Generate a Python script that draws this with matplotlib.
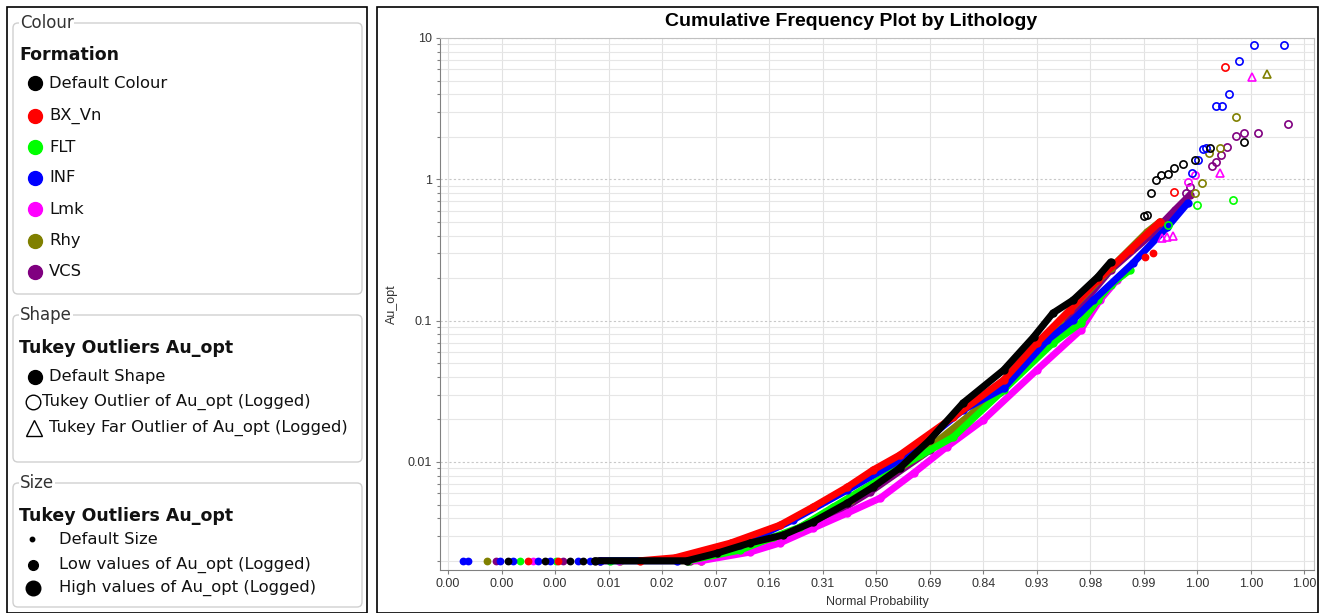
import matplotlib
matplotlib.use('Agg')
import matplotlib.pyplot as plt
from matplotlib.patches import Rectangle, FancyBboxPatch
from matplotlib.ticker import FixedLocator, FixedFormatter, LogLocator, NullFormatter

# ---- data (x = normal score, y = Au_opt) ----
formations = ['Default Colour', 'BX_Vn', 'FLT', 'INF', 'Lmk', 'Rhy', 'VCS']
colours = ['#000000', '#ff0000', '#00ff00', '#0000ff', '#ff00ff', '#808000', '#800080']

z_ticks = [-4.0, -3.5, -3.0, -2.5, -2.0, -1.5, -1.0, -0.5, 0.0, 0.5, 1.0, 1.5, 2.0, 2.5, 3.0, 3.5, 4.0]
prob_labels = ['0.00', '0.00', '0.00', '0.01', '0.02', '0.07', '0.16', '0.31', '0.50',
               '0.69', '0.84', '0.93', '0.98', '0.99', '1.00', '1.00', '1.00']
au_ticks = [0.01, 0.1, 1, 10]
au_labels = ['0.01', '0.1', '1', '10']

# Default Colour
default_z = [-2.63, -1.77, -1.49, -1.18, -0.87, -0.59, -0.27, -0.03, 0.22, 0.50, 0.81, 1.19, 1.47, 1.65, 1.84, 2.07, 2.19]
default_au = [0.002, 0.002, 0.00226, 0.00267, 0.00304, 0.00376, 0.00512, 0.00664, 0.00906, 0.0143, 0.0261, 0.0447, 0.0766, 0.113, 0.140, 0.204, 0.260]
default_pt_z = [-3.44, -3.09, -2.86, -2.74]
default_pt_au = [0.002, 0.002, 0.002, 0.002]
default_out_z = [2.50, 2.53, 2.57, 2.61, 2.66, 2.73, 2.78, 2.87, 2.98, 3.12, 3.44]
default_out_au = [0.55, 0.56, 0.80, 0.99, 1.08, 1.09, 1.20, 1.28, 1.37, 1.67, 1.84]
default_far_z, default_far_au = [], []

# BX_Vn
bxvn_z = [-2.21, -1.88, -1.36, -0.90, -0.59, -0.27, -0.03, 0.22, 0.72, 1.19, 1.50, 1.81, 2.07, 2.37, 2.65]
bxvn_au = [0.002, 0.0021, 0.00267, 0.00357, 0.0048, 0.00664, 0.00877, 0.0112, 0.0208, 0.038, 0.0693, 0.119, 0.194, 0.316, 0.50]
bxvn_pt_z = [-3.25, -2.97, 2.51, 2.59]
bxvn_pt_au = [0.002, 0.002, 0.282, 0.30]
bxvn_out_z = [2.78, 3.26]
bxvn_out_au = [0.81, 6.24]
bxvn_far_z, bxvn_far_au = [], []

# FLT
flt_z = [-2.49, -1.76, -1.27, -0.96, -0.71, -0.40, 0.22, 0.72, 1.19, 1.65, 1.91, 2.07, 2.19, 2.37]
flt_au = [0.002, 0.002, 0.00238, 0.00294, 0.00346, 0.0048, 0.0092, 0.015, 0.0323, 0.0693, 0.0962, 0.140, 0.179, 0.228]
flt_pt_z = [-3.33, -2.99]
flt_pt_au = [0.002, 0.002]
flt_out_z = [2.73, 3.00, 3.33]
flt_out_au = [0.475, 0.657, 0.714]
flt_far_z, flt_far_au = [], []

# INF
inf_z = [-2.58, -1.86, -1.27, -0.78, -0.27, 0.22, 0.50, 0.81, 1.19, 1.60, 1.84, 2.03, 2.40, 2.72, 2.91]
inf_au = [0.002, 0.002, 0.00258, 0.00388, 0.00633, 0.0103, 0.015, 0.0233, 0.0333, 0.0729, 0.101, 0.140, 0.256, 0.459, 0.679]
inf_pt_z = [-3.86, -3.81, -3.51, -3.39, -3.16, -3.05, -2.79, -2.67]
inf_pt_au = [0.002] * 8
inf_out_z = [2.95, 3.01, 3.05, 3.08, 3.17, 3.23, 3.30, 3.39, 3.53, 3.81]
inf_out_au = [1.11, 1.37, 1.64, 1.67, 3.30, 3.30, 4.02, 6.87, 8.92, 8.90]
inf_far_z, inf_far_au = [], []

# Lmk
lmk_z = [-2.40, -1.64, -1.18, -0.90, -0.59, -0.27, 0.04, 0.35, 0.66, 1.00, 1.50, 1.91, 2.09, 2.25]
lmk_au = [0.002, 0.002, 0.0023, 0.00267, 0.0034, 0.00435, 0.00556, 0.00834, 0.0128, 0.0198, 0.0447, 0.0858, 0.140, 0.194]
lmk_pt_z = [-3.21]
lmk_pt_au = [0.002]
lmk_out_z = [2.91, 2.98]
lmk_out_au = [0.96, 1.08]
lmk_far_z = [2.67, 2.72, 2.77, 3.21, 3.51]
lmk_far_au = [0.385, 0.39, 0.40, 1.11, 5.30]

# Rhy
rhy_z = [-2.39, -1.64, -0.90, -0.24, 0.41, 1.07, 1.72, 2.19, 2.53, 2.65]
rhy_au = [0.002, 0.002, 0.00289, 0.00537, 0.0112, 0.0283, 0.101, 0.235, 0.424, 0.50]
rhy_pt_z = [-3.64]
rhy_pt_au = [0.002]
rhy_out_z = [2.98, 3.04, 3.11, 3.21, 3.36]
rhy_out_au = [0.80, 0.94, 1.53, 1.67, 2.76]
rhy_far_z = [3.65]
rhy_far_au = [5.56]

# VCS
vcs_z = [-2.58, -1.74, -1.18, -0.59, -0.06, 0.50, 1.16, 1.72, 2.19, 2.56, 2.79, 2.93]
vcs_au = [0.002, 0.002, 0.0025, 0.00346, 0.00612, 0.0121, 0.0313, 0.0858, 0.228, 0.40, 0.606, 0.774]
vcs_pt_z = [-3.55, -2.93]
vcs_pt_au = [0.002, 0.002]
vcs_out_z = [2.89, 2.93, 3.14, 3.17, 3.22, 3.28, 3.36, 3.44, 3.57, 3.85]
vcs_out_au = [0.80, 0.88, 1.24, 1.33, 1.49, 1.70, 2.02, 2.12, 2.12, 2.46]
vcs_far_z, vcs_far_au = [], []

W, H = 1323, 613
fig = plt.figure(figsize=(W / 100, H / 100), dpi=100)

# ---- main chart ----
ax = fig.add_axes([440 / W, 1 - 570 / H, (1314 - 440) / W, (570 - 38) / H])
ax.set_yscale('log')

series = {
    'VCS': (vcs_z, vcs_au, vcs_pt_z, vcs_pt_au, vcs_out_z, vcs_out_au, vcs_far_z, vcs_far_au),
    'Rhy': (rhy_z, rhy_au, rhy_pt_z, rhy_pt_au, rhy_out_z, rhy_out_au, rhy_far_z, rhy_far_au),
    'Lmk': (lmk_z, lmk_au, lmk_pt_z, lmk_pt_au, lmk_out_z, lmk_out_au, lmk_far_z, lmk_far_au),
    'FLT': (flt_z, flt_au, flt_pt_z, flt_pt_au, flt_out_z, flt_out_au, flt_far_z, flt_far_au),
    'INF': (inf_z, inf_au, inf_pt_z, inf_pt_au, inf_out_z, inf_out_au, inf_far_z, inf_far_au),
    'BX_Vn': (bxvn_z, bxvn_au, bxvn_pt_z, bxvn_pt_au, bxvn_out_z, bxvn_out_au, bxvn_far_z, bxvn_far_au),
    'Default Colour': (default_z, default_au, default_pt_z, default_pt_au,
                       default_out_z, default_out_au, default_far_z, default_far_au),
}
colour_of = dict(zip(formations, colours))

for name, (z, au, pz, pau, oz, oau, fz, fau) in series.items():
    c = colour_of[name]
    ax.plot(z, au, '-', color=c, lw=5, solid_capstyle='round', solid_joinstyle='round', zorder=3)
    ax.plot(z, au, 'o', color=c, ms=5, zorder=3)
    ax.plot(pz, pau, 'o', color=c, ms=4.6, ls='none', zorder=3)
    ax.plot(oz, oau, 'o', mfc='none', mec=c, ms=5.2, mew=1.2, ls='none', zorder=4)
    ax.plot(fz, fau, '^', mfc='none', mec=c, ms=5.2, mew=1.2, ls='none', zorder=4)

ax.set_xlim(-4.075, 4.09)
ax.set_ylim(0.00172, 10)
ax.xaxis.set_major_locator(FixedLocator(z_ticks))
ax.xaxis.set_major_formatter(FixedFormatter(prob_labels))
ax.yaxis.set_major_locator(FixedLocator(au_ticks))
ax.yaxis.set_major_formatter(FixedFormatter(au_labels))
ax.yaxis.set_minor_locator(LogLocator(base=10, subs=range(2, 10)))
ax.yaxis.set_minor_formatter(NullFormatter())

for lab in ax.get_xticklabels() + ax.get_yticklabels():
    lab.set_fontfamily('Liberation Sans')
    lab.set_fontsize(9)
    lab.set_color('#333333')
ax.tick_params(axis='both', which='major', length=3, width=0.8, color='#808080', pad=3)
ax.tick_params(axis='y', which='minor', length=2, width=0.8, color='#808080')

ax.grid(True, axis='x', which='major', color='#e2e2e2', lw=0.8, ls='-')
ax.grid(True, axis='y', which='major', color='#c8c8c8', lw=0.8, ls=(0, (2, 2)))
ax.grid(True, axis='y', which='minor', color='#e6e6e6', lw=0.8, ls='-')
ax.set_axisbelow(True)
for side in ['top', 'right']:
    ax.spines[side].set_color('#c0c0c0')
for side in ['left', 'bottom']:
    ax.spines[side].set_color('#808080')

ax.set_xlabel('Normal Probability', fontfamily='Liberation Sans', fontsize=9, color='#333333', labelpad=4)
ax.set_ylabel('Au_opt', fontfamily='Liberation Sans', fontsize=9, color='#333333')
ax.yaxis.set_label_coords((398 - 440) / 874, 0.5)
fig.text(851 / W, 1 - 22 / H, 'Cumulative Frequency Plot by Lithology', ha='center', va='center',
         fontfamily='Liberation Sans', fontweight='bold', fontsize=14)

# ---- legend panel and frames (pixel coordinates) ----
ov = fig.add_axes([0, 0, 1, 1], zorder=-1)
ov.set_xlim(0, W)
ov.set_ylim(H, 0)
ov.axis('off')

ov.add_patch(Rectangle((7, 7), 360, 606, fill=False, ec='black', lw=1.2))
ov.add_patch(Rectangle((377, 7), 941, 606, fill=False, ec='black', lw=1.2))

boxes = [('Colour', 23, 294), ('Shape', 315, 462), ('Size', 483, 607)]
for label, top, bottom in boxes:
    ov.add_patch(FancyBboxPatch((13, top), 349, bottom - top,
                                boxstyle='round,pad=0,rounding_size=5',
                                fc='white', ec='#d0d0d0', lw=1))
    ov.text(20, top, label, fontfamily='DejaVu Sans', fontsize=12, color='#333333',
            va='center', ha='left', bbox=dict(fc='white', ec='none', pad=0.5))

item_font = dict(fontfamily='DejaVu Sans', fontsize=11.8, color='#111111', va='center')
head_font = dict(fontfamily='DejaVu Sans', fontsize=12.5, fontweight='bold', color='#111111', va='center')

ov.text(19, 55, 'Formation', **head_font)
colour_rows = [83, 116, 147, 178, 209, 241, 272]
for name, c, yy in zip(formations, colours, colour_rows):
    ov.plot(35, yy, 'o', color=c, ms=10)
    ov.text(49, yy, name, **item_font)

ov.text(19, 348, 'Tukey Outliers Au_opt', **head_font)
ov.plot(35, 377, 'o', color='black', ms=10)
ov.text(49, 377, 'Default Shape', **item_font)
ov.plot(33, 402, 'o', mfc='none', mec='black', ms=10.5, mew=1)
ov.text(42, 402, 'Tukey Outlier of Au_opt (Logged)', **item_font)
ov.plot(34, 428, '^', mfc='none', mec='black', ms=11.5, mew=1)
ov.text(49, 428, 'Tukey Far Outlier of Au_opt (Logged)', **item_font)

ov.text(19, 516, 'Tukey Outliers Au_opt', **head_font)
ov.plot(32, 539, 'o', color='black', ms=3.2)
ov.text(59, 539, 'Default Size', **item_font)
ov.plot(33, 565, 'o', color='black', ms=7)
ov.text(59, 565, 'Low values of Au_opt (Logged)', **item_font)
ov.plot(33, 588, 'o', color='black', ms=10.5)
ov.text(59, 588, 'High values of Au_opt (Logged)', **item_font)

fig.savefig('out.png', dpi=100)
